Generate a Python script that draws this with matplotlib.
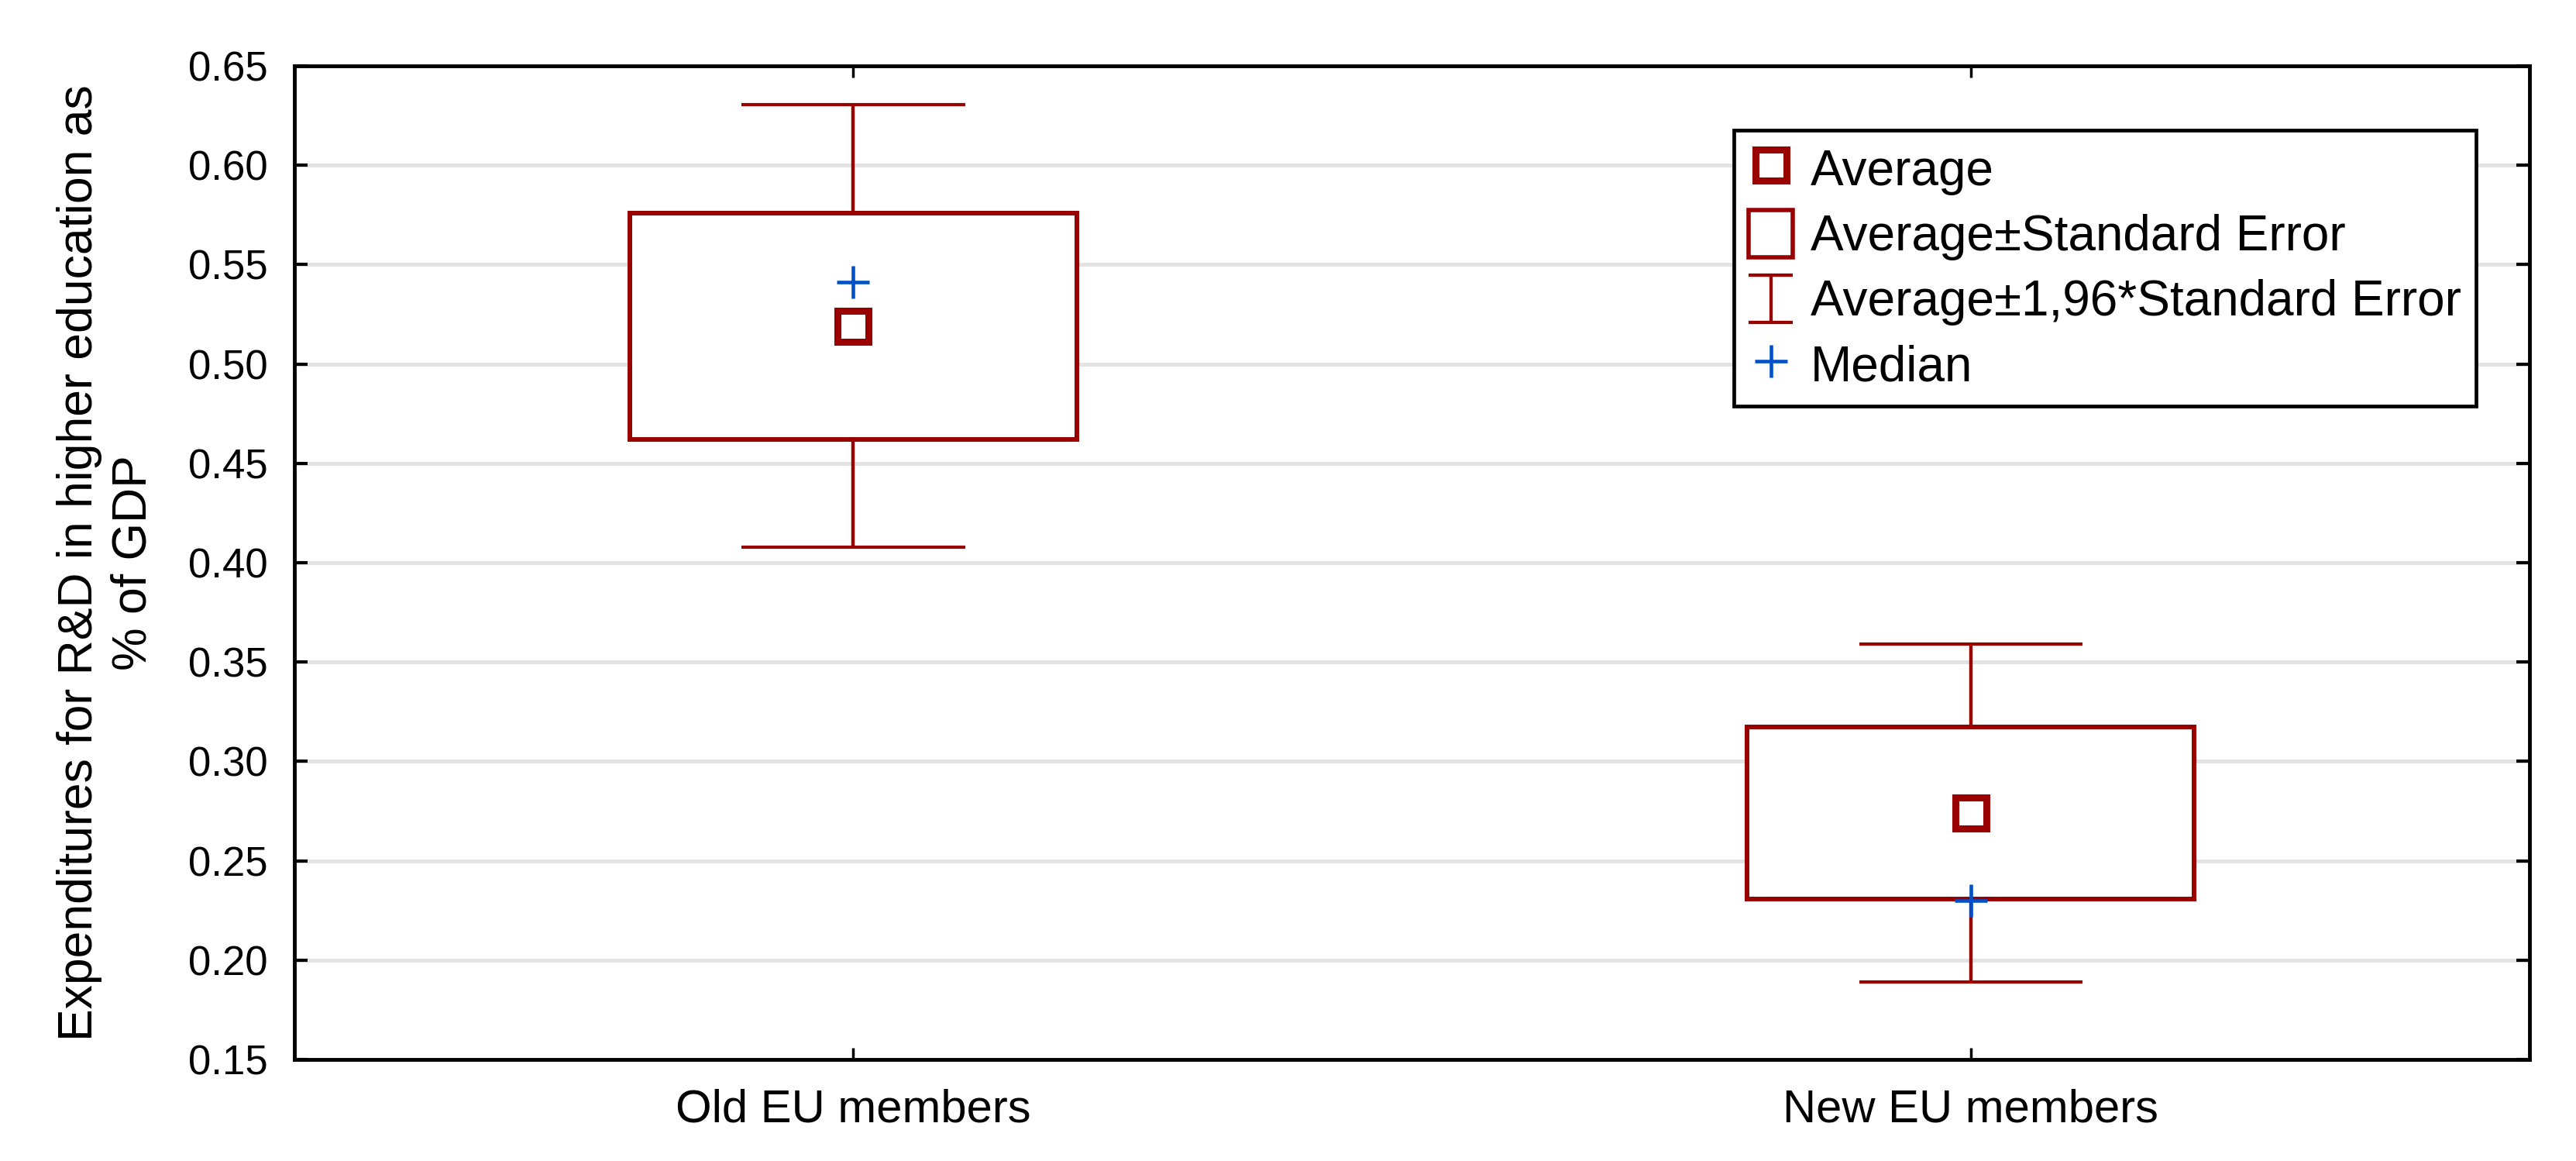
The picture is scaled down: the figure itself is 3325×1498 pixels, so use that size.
"""Mean / standard error box chart of R&D expenditures in higher education.

Old versus new EU member states, boxes show Average±SE, whiskers
show Average±1,96*SE, the blue cross marks the median.
"""

from __future__ import annotations

import matplotlib

matplotlib.use("Agg")
import matplotlib.pyplot as plt
from matplotlib.legend_handler import HandlerBase
from matplotlib.lines import Line2D
from matplotlib.patches import Patch

# data
GROUPS = ["Old EU members", "New EU members"]
MEANS = [0.519, 0.274]
STD_ERRORS = [0.0568, 0.0433]
MEDIANS = [0.541, 0.230]
Z_FACTOR = 1.96

Y_TICKS = [0.15, 0.20, 0.25, 0.30, 0.35, 0.40, 0.45, 0.50, 0.55, 0.60, 0.65]
Y_LABEL = "Expenditures for R&D in higher education as\n% of GDP"

# style
RED = "#990000"
BLUE = "#0050c8"
GRID = "#e3e3e3"
BOX_WIDTH = 0.4
CAP_HALF = 0.1

plt.rcParams["font.family"] = ["Liberation Sans", "DejaVu Sans"]


class IBarHandler(HandlerBase):
    """Draw the 'I' shaped whisker symbol in the legend."""

    def create_artists(self, legend, orig_handle, xdescent, ydescent,
                       width, height, fontsize, trans):
        x0, x1 = -xdescent, width - xdescent
        y0, y1 = -ydescent, height - ydescent
        xm = (x0 + x1) / 2
        kw = dict(color=RED, lw=3.1, transform=trans, solid_capstyle="butt")
        return [
            Line2D([xm, xm], [y0, y1], **kw),
            Line2D([x0, x1], [y0, y0], **kw),
            Line2D([x0, x1], [y1, y1], **kw),
        ]


def main() -> None:
    fig = plt.figure(figsize=(33.25, 14.98), dpi=100)
    ax = fig.add_axes([0.11429, 0.08745, 0.86767, 0.85581])

    x = list(range(len(GROUPS)))
    box_low = [m - s for m, s in zip(MEANS, STD_ERRORS)]
    box_h = [2 * s for s in STD_ERRORS]
    ci_low = [m - Z_FACTOR * s for m, s in zip(MEANS, STD_ERRORS)]
    ci_high = [m + Z_FACTOR * s for m, s in zip(MEANS, STD_ERRORS)]

    # whiskers (hidden inside the white box)
    ax.vlines(x, ci_low, ci_high, color=RED, lw=3.2, zorder=2)
    for xi, lo, hi in zip(x, ci_low, ci_high):
        ax.hlines([lo, hi], xi - CAP_HALF, xi + CAP_HALF, color=RED, lw=3.0, zorder=2)

    ax.bar(x, box_h, bottom=box_low, width=BOX_WIDTH, facecolor="white",
           edgecolor=RED, linewidth=4.3, zorder=3)

    ax.plot(x, MEDIANS, linestyle="none", marker="+", markersize=30,
            markeredgewidth=3.3, color=BLUE, zorder=5)
    ax.plot(x, MEANS, linestyle="none", marker="s", markersize=28.5,
            markeredgewidth=6.5, markerfacecolor="white", markeredgecolor=RED,
            zorder=6)

    ax.set_xlim(-0.5, 1.5)
    ax.set_ylim(0.15, 0.65)
    ax.set_xticks(x)
    ax.set_xticklabels(GROUPS, fontsize=43)
    ax.set_yticks(Y_TICKS)
    ax.set_yticklabels([f"{v:.2f}" for v in Y_TICKS], fontsize=38)

    ax.tick_params(axis="y", direction="in", length=12, width=3, pad=25,
                   left=True, right=True)
    ax.tick_params(axis="x", direction="in", length=11, width=2.5, pad=27,
                   bottom=True, top=True)
    for sp in ax.spines.values():
        sp.set_linewidth(3.5)

    ax.set_axisbelow(True)
    ax.grid(axis="y", color=GRID, linewidth=3.6)

    ax.set_ylabel(Y_LABEL, fontsize=45, linespacing=1.23)
    ax.yaxis.set_label_coords(-0.062, 0.5)

    # legend
    h_mean = Line2D([], [], linestyle="none", marker="s", markersize=28.5,
                    markeredgewidth=6.5, markerfacecolor="white",
                    markeredgecolor=RED)
    h_se = Patch(facecolor="white", edgecolor=RED, linewidth=4.0)
    h_ci = Line2D([], [])
    h_med = Line2D([], [], linestyle="none", marker="+", markersize=30,
                   markeredgewidth=3.3, color=BLUE)
    leg = ax.legend(
        [h_mean, h_se, h_ci, h_med],
        ["Average", "Average±Standard Error",
         "Average±1,96*Standard Error", "Median"],
        handler_map={h_ci: IBarHandler()},
        loc="upper right",
        bbox_to_anchor=(0.9761, 0.9353),
        borderaxespad=0,
        fontsize=46,
        numpoints=1,
        handlelength=0.89,
        handleheight=1.08,
        handletextpad=0.36,
        labelspacing=0.3,
        borderpad=0.3,
        fancybox=False,
        framealpha=1,
        edgecolor="black",
    )
    leg.get_frame().set_linewidth(3.4)

    fig.savefig("out.png", dpi=100)
    plt.close(fig)


if __name__ == "__main__":
    main()
